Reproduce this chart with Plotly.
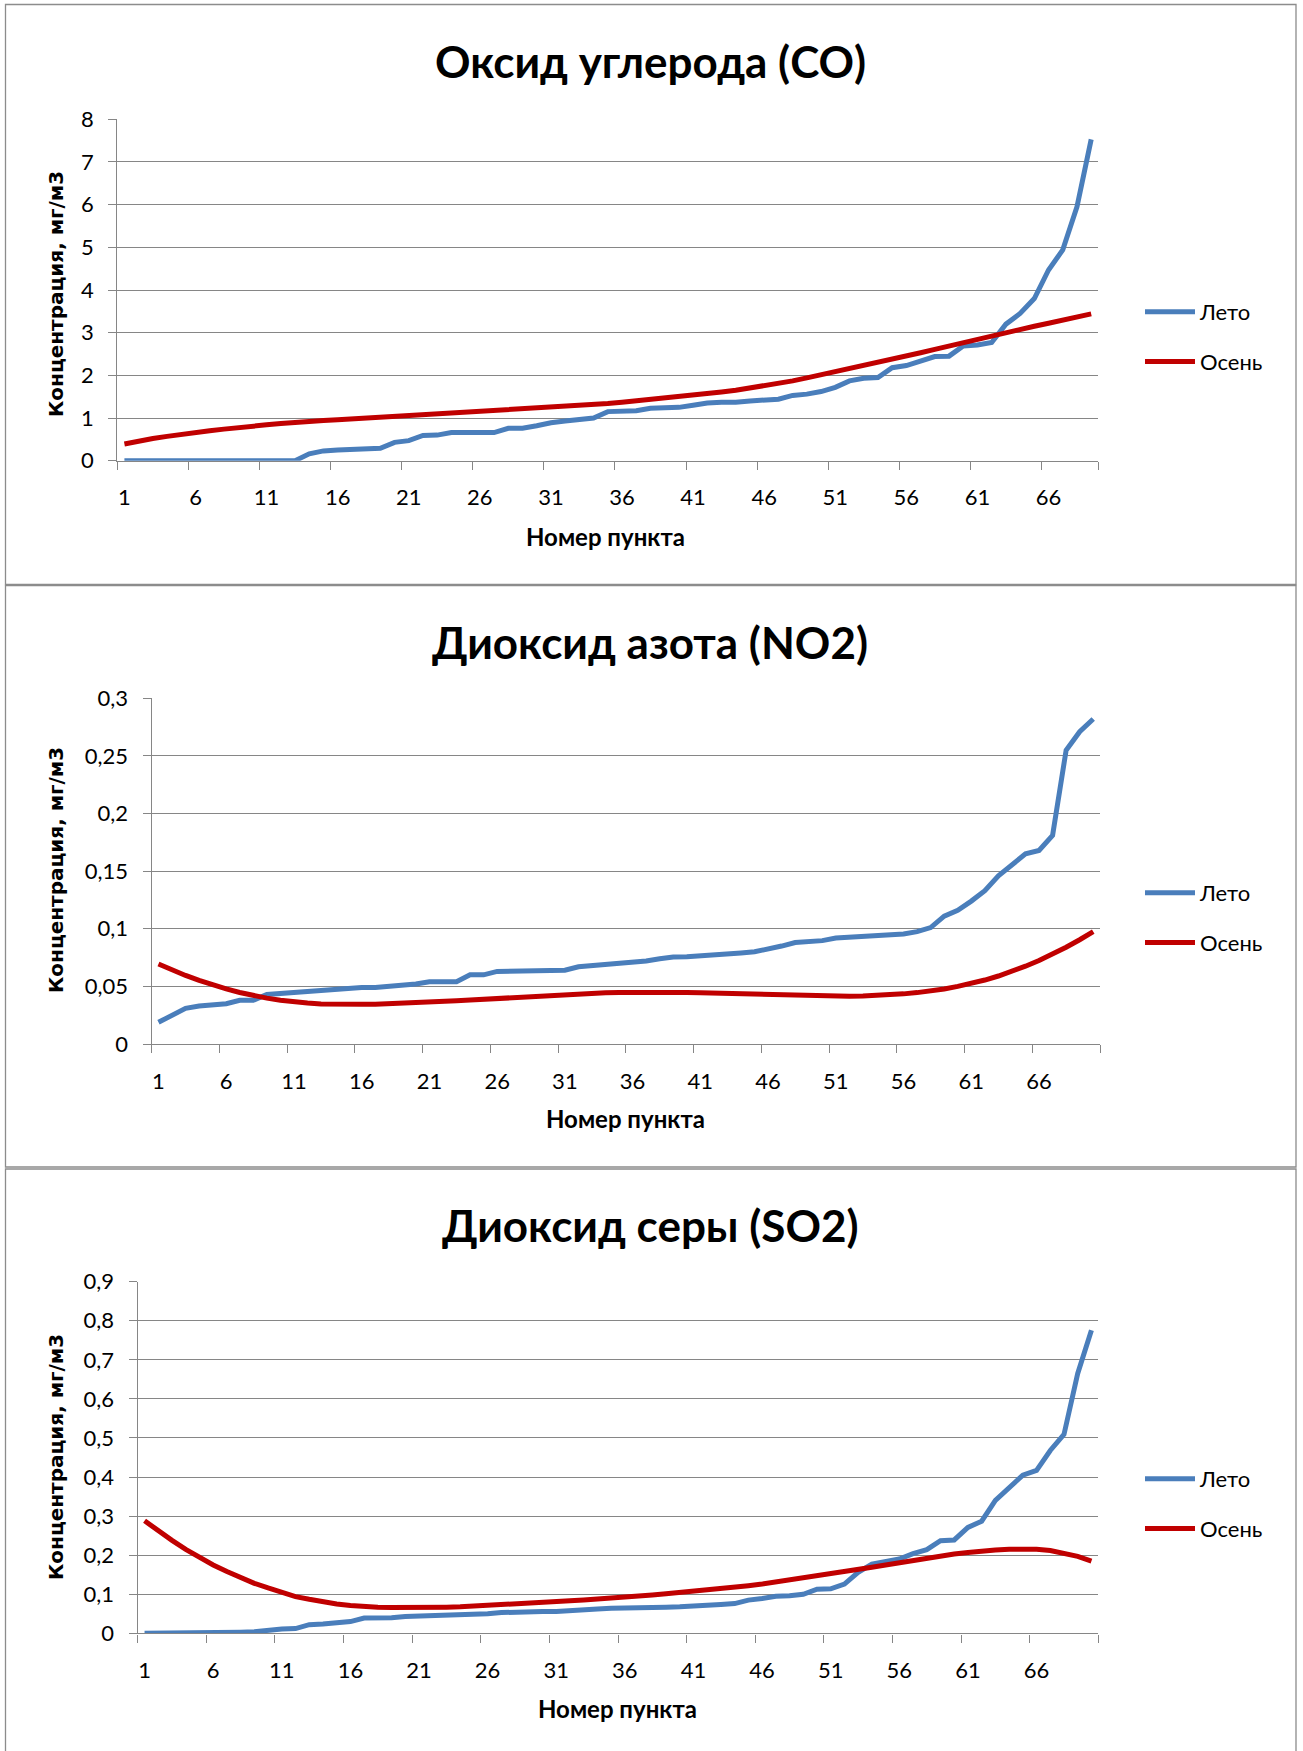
import plotly.graph_objects as go

W, H = 1303, 1751

# ---------------- data ----------------
series_names = ["Лето", "Осень"]
titles = ["Оксид углерода (CO)", "Диоксид азота (NO2)", "Диоксид серы (SO2)"]
x_title = "Номер пункта"
y_title = "Концентрация, мг/м3"

points_co = list(range(1, 70))
points_no2 = list(range(1, 71))
points_so2 = list(range(1, 71))

co_leto = [0, 0, 0, 0, 0, 0, 0, 0, 0, 0, 0, 0, 0, 0.16, 0.23, 0.25, 0.27, 0.27, 0.29, 0.43,
           0.47, 0.59, 0.60, 0.66, 0.66, 0.66, 0.66, 0.76, 0.76, 0.82, 0.89, 0.93, 0.97, 1.00, 1.15,
           1.15, 1.17, 1.23, 1.25, 1.25, 1.30, 1.35, 1.37, 1.37, 1.40, 1.41, 1.44, 1.53, 1.56, 1.62,
           1.72, 1.87, 1.93, 1.95, 2.18, 2.23, 2.34, 2.44, 2.45, 2.69, 2.71, 2.77, 3.20, 3.45, 3.80,
           4.47, 4.94, 5.95, 7.53]
co_osen = [0.39, 0.46, 0.52, 0.57, 0.62, 0.66, 0.70, 0.74, 0.78, 0.81, 0.84, 0.87, 0.90, 0.92, 0.94,
           0.96, 0.98, 1.00, 1.02, 1.04, 1.05, 1.07, 1.09, 1.10, 1.12, 1.14, 1.16, 1.18, 1.20, 1.22,
           1.24, 1.26, 1.28, 1.31, 1.34, 1.37, 1.40, 1.43, 1.46, 1.49, 1.53, 1.57, 1.61, 1.65, 1.70,
           1.75, 1.81, 1.87, 1.94, 2.01, 2.08, 2.15, 2.23, 2.30, 2.38, 2.45, 2.53, 2.61, 2.69, 2.77,
           2.85, 2.93, 3.01, 3.08, 3.15, 3.22, 3.29, 3.36, 3.44]

no2_leto = [0.0188, 0.025, 0.031, 0.033, 0.034, 0.035, 0.038, 0.038, 0.043, 0.044, 0.045, 0.046,
            0.047, 0.047, 0.048, 0.049, 0.049, 0.050, 0.050, 0.052, 0.054, 0.054, 0.054, 0.060,
            0.060, 0.063, 0.063, 0.063, 0.064, 0.064, 0.064, 0.067, 0.068, 0.069, 0.069, 0.070,
            0.072, 0.074, 0.0755, 0.0758, 0.0764, 0.0775, 0.0778, 0.079, 0.080, 0.082, 0.085,
            0.088, 0.0885, 0.0897, 0.092, 0.0926, 0.0937, 0.0943, 0.0952, 0.0955, 0.0975, 0.101,
            0.111, 0.116, 0.124, 0.133, 0.146, 0.156, 0.165, 0.168, 0.181, 0.255, 0.271, 0.282]
no2_osen = [0.0694, 0.0640, 0.0595, 0.0552, 0.0512, 0.0478, 0.0447, 0.0420, 0.0398, 0.0380,
            0.0365, 0.0355, 0.0348, 0.0344, 0.0343, 0.0344, 0.0346, 0.0349, 0.0353, 0.0358,
            0.0363, 0.0369, 0.0375, 0.0382, 0.0389, 0.0396, 0.0403, 0.0410, 0.0417, 0.0423,
            0.0429, 0.0435, 0.0440, 0.0444, 0.0447, 0.0449, 0.0450, 0.0450, 0.0449, 0.0447,
            0.0445, 0.0442, 0.0439, 0.0436, 0.0432, 0.0428, 0.0424, 0.0421, 0.0418, 0.0416,
            0.0415, 0.0415, 0.0417, 0.0421, 0.0427, 0.0435, 0.0446, 0.0460, 0.0478, 0.0500,
            0.0525, 0.0555, 0.0590, 0.0630, 0.0675, 0.0725, 0.0780, 0.0840, 0.0905, 0.0975]

so2_leto = [0, 0, 0, 0, 0, 0, 0, 0.003, 0.004, 0.0085, 0.011, 0.012, 0.022, 0.024, 0.027, 0.030,
            0.039, 0.039, 0.040, 0.043, 0.044, 0.044, 0.044, 0.046, 0.049, 0.050, 0.053, 0.055,
            0.056, 0.056, 0.056, 0.057, 0.060, 0.062, 0.064, 0.064, 0.065, 0.066, 0.067, 0.068,
            0.071, 0.071, 0.074, 0.076, 0.085, 0.089, 0.095, 0.096, 0.100, 0.113, 0.114, 0.126,
            0.156, 0.177, 0.183, 0.190, 0.204, 0.214, 0.237, 0.239, 0.271, 0.287, 0.340, 0.374,
            0.405, 0.417, 0.468, 0.509, 0.665, 0.776]
so2_osen = [0.288, 0.262, 0.238, 0.215, 0.194, 0.175, 0.158, 0.142, 0.128, 0.116, 0.105, 0.094,
            0.087, 0.080, 0.075, 0.071, 0.068, 0.067, 0.066, 0.0655, 0.0655, 0.066, 0.067, 0.068,
            0.0695, 0.071, 0.073, 0.075, 0.077, 0.079, 0.081, 0.083, 0.085, 0.087, 0.090, 0.092,
            0.095, 0.098, 0.101, 0.104, 0.107, 0.110, 0.114, 0.118, 0.122, 0.126, 0.131, 0.136,
            0.141, 0.146, 0.151, 0.157, 0.163, 0.169, 0.175, 0.181, 0.187, 0.193, 0.198, 0.203,
            0.207, 0.211, 0.213, 0.215, 0.2155, 0.215, 0.212, 0.206, 0.197, 0.185]

# ---------------- styling / layout ----------------
BLUE = "#4A7EBB"
RED = "#C00000"
GRID = "#868686"
FONT = "Lato"

def fx(px):
    return px / W

def fy(py):
    return 1 - py / H

panels = [
    dict(x=points_co, leto=co_leto, osen=co_osen, x0=117.3, x1=1098.3, top=119.3, bottom=460.7,
         yr=[0, 8], dtick=1, title_xy=(650, 61), xt_xy=(605, 536), yt_xy=(56, 294), leg_y=337),
    dict(x=points_no2, leto=no2_leto, osen=no2_osen, x0=151.7, x1=1100.0, top=698.3, bottom=1044.0,
         yr=[0, 0.3], dtick=0.05, title_xy=(650, 642), xt_xy=(625, 1118), yt_xy=(56, 870), leg_y=918),
    dict(x=points_so2, leto=so2_leto, osen=so2_osen, x0=137.7, x1=1098.3, top=1281.7, bottom=1633.3,
         yr=[0, 0.9], dtick=0.1, title_xy=(650, 1225), xt_xy=(617, 1708), yt_xy=(56, 1457), leg_y=1504),
]

boxes = [(5.5, 4.5, 1296, 584.5), (5.5, 585.5, 1296, 1167), (5.5, 1169, 1296, 1760)]

fig = go.Figure()
layout = dict(
    width=W, height=H, margin=dict(l=0, r=0, t=0, b=0, autoexpand=False),
    paper_bgcolor="white", plot_bgcolor="white",
    separators=", ",
    font=dict(family=FONT, size=22, color="black"),
    showlegend=True,
)
annotations = []
shapes = []

for k, p in enumerate(panels):
    n = len(p["x"])
    sfx = "" if k == 0 else str(k + 1)
    xa, ya = "x" + sfx, "y" + sfx
    leg = "legend" + sfx
    for name, vals, col, grp in ((series_names[0], p["leto"], BLUE, "a"),
                                 (series_names[1], p["osen"], RED, "b")):
        fig.add_trace(go.Scatter(
            x=p["x"], y=vals, mode="lines", name=name,
            line=dict(color=col, width=5),
            xaxis=xa, yaxis=ya, legend=leg, legendgroup=grp,
            hoverinfo="skip",
        ))
    tv = list(range(1, n + 1, 5))
    layout["xaxis" + sfx] = dict(
        domain=[fx(p["x0"]), fx(p["x1"])], anchor=ya,
        range=[0.5, n + 0.5], showgrid=False, zeroline=False,
        showline=True, linecolor=GRID, linewidth=1.4, automargin=False,
        tickmode="array", tickvals=tv, ticktext=[str(v) for v in tv],
        ticks="", ticklabelstandoff=17,
        tickfont=dict(family=FONT, size=22, color="black"),
        minor=dict(tickmode="array", tickvals=[v - 0.5 for v in tv] + [n + 0.5],
                   ticks="outside", ticklen=8, tickwidth=1.4, tickcolor=GRID, showgrid=False),
    )
    layout["yaxis" + sfx] = dict(
        domain=[fy(p["bottom"]), fy(p["top"])], anchor=xa,
        range=p["yr"], dtick=p["dtick"], tick0=0,
        showgrid=True, gridcolor=GRID, gridwidth=1.4, zeroline=False,
        showline=True, linecolor=GRID, linewidth=1.4, automargin=False,
        ticks="outside", ticklen=8, tickwidth=1.4, tickcolor=GRID,
        ticklabelstandoff=10,
        tickfont=dict(family=FONT, size=22, color="black"),
    )
    layout[leg] = dict(
        x=fx(1140), y=fy(p["leg_y"]), xanchor="left", yanchor="middle",
        traceorder="grouped", tracegroupgap=18, itemwidth=50,
        font=dict(family=FONT, size=22, color="black"),
        bgcolor="rgba(0,0,0,0)", borderwidth=0,
    )
    tx, ty = p["title_xy"]
    annotations.append(dict(text="<b>" + titles[k] + "</b>", x=fx(tx), y=fy(ty),
                            xref="paper", yref="paper", showarrow=False,
                            xanchor="center", yanchor="middle",
                            font=dict(family=FONT, size=44, color="black")))
    tx, ty = p["xt_xy"]
    annotations.append(dict(text="<b>" + x_title + "</b>", x=fx(tx), y=fy(ty),
                            xref="paper", yref="paper", showarrow=False,
                            xanchor="center", yanchor="middle",
                            font=dict(family=FONT, size=24, color="black")))
    tx, ty = p["yt_xy"]
    annotations.append(dict(text="<b>" + y_title + "</b>", x=fx(tx), y=fy(ty),
                            xref="paper", yref="paper", showarrow=False, textangle=-90,
                            xanchor="center", yanchor="middle",
                            font=dict(family="DejaVu Sans", size=20, color="black")))

for (x0, y0, x1, y1) in boxes:
    shapes.append(dict(type="rect", xref="paper", yref="paper",
                       x0=fx(x0), x1=fx(x1), y0=fy(y0), y1=fy(y1),
                       line=dict(color="#8C8C8C", width=1.3), layer="below"))

layout["annotations"] = annotations
layout["shapes"] = shapes
fig.update_layout(**layout)

fig.write_html("out.html", config={"displayModeBar": False},
               post_script="document.body.style.margin='0px';document.body.style.overflow='hidden';")
